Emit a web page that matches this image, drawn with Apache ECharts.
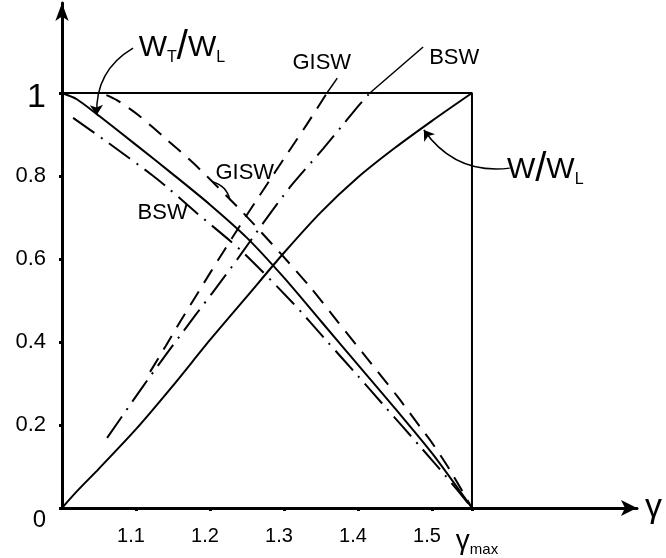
<!DOCTYPE html>
<html>
<head>
<meta charset="utf-8">
<script src="https://cdn.jsdelivr.net/npm/echarts@6/dist/echarts.min.js"></script>
<style>
html, body { margin: 0; padding: 0; background: #fff; }
#main { width: 666px; height: 558px; }
</style>
</head>
<body>
<div id="main"></div>
<script>
var gammaMax = 1.554;
var xTicks = [1.1, 1.2, 1.3, 1.4, 1.5, gammaMax];
var xTickLabels = ['{n|1.1}', '{n|1.2}', '{n|1.3}', '{n|1.4}', '{n|1.5}', '{g|γ}{m|max}'];
var yTicks = [0, 0.2, 0.4, 0.6, 0.8, 1];
var yTickLabels = ['{z|0}', '0.2', '0.4', '0.6', '0.8', '{one|1}'];

// W/W_L (rising), exact = solid, GISW = dashed, BSW = dash-dot
var wRatio = [[1.0, 0], [1.02, 0.04], [1.05, 0.095], [1.1, 0.19], [1.15, 0.295],
    [1.2, 0.405], [1.25, 0.51], [1.3, 0.615], [1.35, 0.713], [1.4, 0.797],
    [1.45, 0.868], [1.5, 0.933], [1.554, 1.0]];
var wRatioGISW = [[1.119, 0.328], [1.14, 0.39], [1.16, 0.45], [1.18, 0.508], [1.2, 0.566],
    [1.22, 0.623], [1.24, 0.679], [1.26, 0.734], [1.28, 0.788], [1.3, 0.842],
    [1.33, 0.922], [1.358, 1.0]];
var wRatioBSW = [[1.061, 0.169], [1.109, 0.292], [1.139, 0.366], [1.159, 0.414],
    [1.18, 0.464], [1.203, 0.518], [1.238, 0.602], [1.272, 0.687], [1.308, 0.773],
    [1.353, 0.866], [1.378, 0.92], [1.40, 0.968], [1.416, 1.0]];

// W_T/W_L (falling)
var wtRatio = [[1.0, 1.0], [1.02, 0.985], [1.05, 0.945], [1.1, 0.875], [1.15, 0.804],
    [1.2, 0.731], [1.25, 0.651], [1.3, 0.555], [1.35, 0.45], [1.4, 0.345],
    [1.45, 0.24], [1.5, 0.132], [1.554, 0]];
var wtRatioGISW = [[1.06, 0.995], [1.074, 0.983], [1.103, 0.947], [1.142, 0.887],
    [1.18, 0.827], [1.245, 0.711], [1.295, 0.614], [1.335, 0.533], [1.373, 0.448],
    [1.412, 0.361], [1.454, 0.267], [1.484, 0.195], [1.50, 0.157], [1.524, 0.092], [1.554, 0]];
var wtRatioBSW = [[1.015, 0.94], [1.061, 0.882], [1.122, 0.802], [1.142, 0.773],
    [1.182, 0.711], [1.241, 0.622], [1.312, 0.494], [1.359, 0.40], [1.40, 0.318],
    [1.436, 0.245], [1.484, 0.148], [1.518, 0.078], [1.554, 0]];

var frame = [[1, 1], [gammaMax, 1], [gammaMax, 0]];

// text annotations
var noteNames = ['wt', 'giswTop', 'bswTop', 'giswMid', 'bswMid', 'w'];
var notePos = [[1.162, 1.108], [1.351, 1.072], [1.53, 1.084], [1.247, 0.807], [1.136, 0.711], [1.653, 0.814]];
var noteText = ['{w|W}{s|T}{sl|/}{w|W}{s|L}', 'GISW', 'BSW', 'GISW', 'BSW', '{w|W}{sl|/}{w|W}{s|L}'];

// leader lines
var arrowLeaders = [
    { coords: [[1.096, 1.108], [1.047, 0.947]], curveness: -0.3 },
    { coords: [[1.605, 0.819], [1.489, 0.911]], curveness: 0.3 }
];
var plainLeaders = [
    { coords: [[1.372, 1.036], [1.358, 1.0]], curveness: 0 },
    { coords: [[1.488, 1.111], [1.416, 1.0]], curveness: 0 },
    { coords: [[1.203, 0.786], [1.227, 0.742]], curveness: 0.3 }
];

var font = 'Liberation Sans, DejaVu Sans, sans-serif';

function nearestIdx(arr, v) {
    var best = 0;
    for (var i = 1; i < arr.length; i++) {
        if (Math.abs(arr[i] - v) < Math.abs(arr[best] - v)) best = i;
    }
    return best;
}

function curve(data, type) {
    return {
        type: 'line',
        data: data,
        smooth: 0.25,
        showSymbol: false,
        symbol: 'none',
        lineStyle: { color: '#000', width: 2, type: type },
        silent: true
    };
}

function txt(size, extra) {
    var s = { fontSize: size, fontFamily: font, color: '#000', textBorderWidth: 0 };
    for (var k in extra) s[k] = extra[k];
    return s;
}

var myChart = echarts.init(document.getElementById('main'));
var option = {
    animation: false,
    backgroundColor: '#fff',
    grid: { left: 62, right: 29, top: 3, bottom: 50 },
    xAxis: {
        type: 'value',
        min: 1,
        max: 1.777,
        name: 'γ',
        nameLocation: 'end',
        nameGap: 8,
        nameTextStyle: { fontSize: 34, fontFamily: font, color: '#000', verticalAlign: 'middle' },
        splitLine: { show: false },
        axisLine: { lineStyle: { color: '#000', width: 3 }, symbol: ['none', 'arrow'], symbolSize: [12, 16] },
        axisTick: { customValues: xTicks, length: 3, lineStyle: { color: '#000', width: 3 } },
        axisLabel: {
            customValues: xTicks,
            margin: 18,
            fontSize: 20,
            fontFamily: font,
            color: '#000',
            formatter: function (v) { return xTickLabels[nearestIdx(xTicks, v)]; },
            rich: {
                n: txt(20, { padding: [0, 10, 0, 0] }),
                g: txt(28, { padding: [0, 0, 0, 10] }),
                m: txt(15, { padding: [16, 0, 0, 0] })
            }
        }
    },
    yAxis: {
        type: 'value',
        min: 0,
        max: 1.2169,
        splitLine: { show: false },
        axisLine: { lineStyle: { color: '#000', width: 3 }, symbol: ['none', 'arrow'], symbolSize: [10, 18] },
        axisTick: { customValues: yTicks, length: 3, lineStyle: { color: '#000', width: 3 } },
        axisLabel: {
            customValues: yTicks,
            margin: 16,
            fontSize: 22,
            fontFamily: font,
            color: '#000',
            formatter: function (v) { return yTickLabels[nearestIdx(yTicks, v)]; },
            rich: {
                z: txt(24, { padding: [24, 0, 0, 0] }),
                one: txt(34, { padding: [10, 0, 0, 0] })
            }
        }
    },
    series: [
        {
            type: 'line',
            data: frame,
            symbol: 'none',
            lineStyle: { color: '#000', width: 2 },
            silent: true
        },
        curve(wRatio, 'solid'),
        curve(wRatioGISW, [16, 10]),
        curve(wRatioBSW, [26, 8, 2, 8]),
        curve(wtRatio, 'solid'),
        curve(wtRatioGISW, [16, 10]),
        curve(wtRatioBSW, [26, 8, 2, 8]),
        {
            type: 'lines',
            coordinateSystem: 'cartesian2d',
            symbol: ['none', 'arrow'],
            symbolSize: 10,
            silent: true,
            data: arrowLeaders.map(function (l) {
                return { coords: l.coords, lineStyle: { curveness: l.curveness } };
            }),
            lineStyle: { color: '#000', width: 1.5, opacity: 1 }
        },
        {
            type: 'lines',
            coordinateSystem: 'cartesian2d',
            symbol: 'none',
            silent: true,
            data: plainLeaders.map(function (l) {
                return { coords: l.coords, lineStyle: { curveness: l.curveness } };
            }),
            lineStyle: { color: '#000', width: 1.5, opacity: 1 }
        },
        {
            type: 'scatter',
            symbolSize: 0,
            silent: true,
            itemStyle: { color: '#000', opacity: 1 },
            data: notePos.map(function (p, i) {
                return { name: noteNames[i], value: p, label: { formatter: noteText[i] } };
            }),
            label: {
                show: true,
                position: 'inside',
                opacity: 1,
                fontSize: 22,
                fontFamily: font,
                color: '#000',
                textBorderWidth: 0,
                textBorderColor: 'transparent',
                rich: {
                    w: txt(30, {}),
                    s: txt(16, { padding: [18, 0, 0, 0] }),
                    sl: txt(40, {})
                }
            }
        }
    ]
};
myChart.setOption(option);
</script>
</body>
</html>
